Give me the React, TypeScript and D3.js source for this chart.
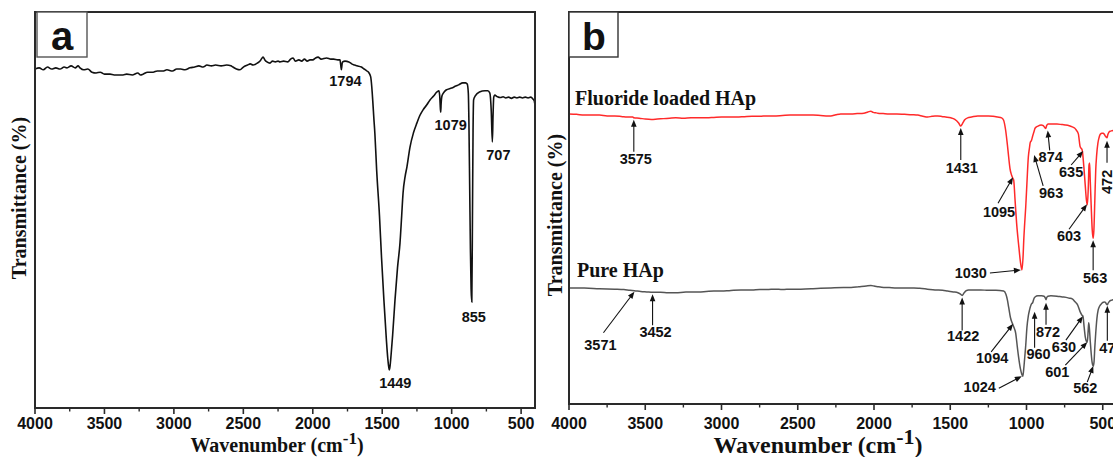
import React from 'react';
import * as d3 from 'd3';

// ---------- data ----------
const majorTicks = [4000, 3500, 3000, 2500, 2000, 1500, 1000, 500];
const minorTicks = [3750, 3250, 2750, 2250, 1750, 1250, 750];

// Panel a (single spectrum)
const spectrumAWavenumber = [
  4000, 3970, 3940, 3910, 3880, 3850, 3820, 3790, 3770, 3740, 3710, 3690, 3676, 3650, 3620, 3590, 3560, 3530, 3500,
  3460, 3430, 3400, 3366, 3340, 3300, 3260, 3240, 3222, 3190, 3150, 3120, 3080, 3050, 3010, 2980, 2950, 2920, 2884,
  2850, 2820, 2790, 2762, 2730, 2700, 2660, 2620, 2590, 2575, 2550, 2524, 2500, 2470, 2450, 2430, 2400, 2380, 2365,
  2358, 2345, 2330, 2308, 2290, 2270, 2250, 2236, 2210, 2180, 2160, 2142, 2125, 2100, 2080, 2060, 2040, 2020, 2000,
  1980, 1962, 1940, 1900, 1870, 1850, 1820, 1804, 1798, 1794, 1790, 1785, 1768, 1740, 1720, 1700, 1682, 1650, 1630,
  1610, 1595, 1583, 1575, 1568, 1560, 1553, 1540, 1520, 1505, 1488, 1470, 1460, 1453, 1449, 1444, 1436, 1425, 1408,
  1390, 1372, 1360, 1350, 1335, 1322, 1300, 1275, 1250, 1230, 1206, 1180, 1156, 1130, 1106, 1092, 1086, 1081, 1079,
  1076, 1070, 1060, 1040, 1000, 970, 950, 920, 900, 888, 880, 876, 870, 865, 860, 855, 850, 846, 842, 830, 800, 760,
  740, 725, 715, 707, 702, 697, 690, 670, 650, 630, 610, 590, 570, 550, 530, 510, 490, 470, 450, 430, 415, 405, 400,
];
const spectrumATransmittance = [
  85.6, 85.9, 85.4, 86.1, 85.6, 85.9, 85.6, 86.1, 85.9, 86.4, 85.9, 86.4, 85.9, 85.4, 85.6, 84.8, 84.6, 84.8, 84.3,
  84.3, 84.1, 84.1, 84.1, 84.3, 84.1, 84.6, 84.1, 84.3, 84.8, 84.8, 85.1, 85.1, 85.4, 85.1, 85.6, 85.6, 85.4, 85.9,
  86.1, 86.4, 86.1, 86.6, 86.4, 86.6, 86.4, 86.6, 86.4, 86.1, 85.6, 85.4, 86.1, 86.6, 86.9, 86.6, 87.1, 87.6, 88.4,
  88.6, 87.9, 87.4, 87.1, 87.6, 87.4, 87.6, 87.4, 87.6, 87.4, 88.1, 88.4, 87.6, 87.9, 87.6, 88.1, 87.6, 87.9, 87.9,
  88.4, 88.6, 88.1, 88.4, 88.1, 88.1, 87.9, 87.9, 86.4, 85.4, 86.6, 87.4, 87.6, 87.4, 86.9, 86.6, 86.4, 86.1, 85.6,
  85.1, 84.6, 83.6, 81.0, 77.5, 73.0, 69.4, 60.0, 48.7, 38.0, 27.3, 17.2, 12.5, 10.3, 9.6, 10.5, 13.5, 18.4, 27.3,
  35.4, 41.7, 48.5, 54.3, 58.5, 60.9, 65.9, 69.5, 72.0, 73.8, 75.3, 76.5, 77.8, 78.8, 79.8, 80.1, 78.8, 75.5, 74.7,
  76.8, 78.8, 79.5, 80.3, 80.8, 81.3, 81.6, 82.1, 82.1, 81.8, 79.5, 72.7, 55.0, 40.0, 30.0, 26.8, 50.0, 70.0, 77.8,
  78.8, 79.8, 80.1, 80.1, 79.5, 75.0, 67.2, 74.0, 78.5, 79.0, 78.6, 78.4, 78.6, 78.3, 78.5, 78.2, 78.5, 78.3, 78.5,
  78.3, 78.5, 78.3, 78.5, 78.0, 77.5, 76.5, 76.0,
];
const spectrumAPeaks = [1794, 1449, 1079, 855, 707];

// Panel b, Fluoride loaded HAp
const fluorideWavenumber = [
  4000, 3950, 3900, 3850, 3800, 3750, 3700, 3650, 3620, 3581, 3575, 3540, 3500, 3460, 3420, 3380, 3340, 3300, 3250,
  3200, 3150, 3096, 3050, 3000, 2950, 2900, 2850, 2800, 2750, 2700, 2660, 2600, 2550, 2500, 2450, 2400, 2350, 2300,
  2283, 2250, 2218, 2180, 2152, 2110, 2067, 2040, 2021, 2005, 1990, 1975, 1940, 1900, 1850, 1800, 1750, 1713, 1680,
  1648, 1620, 1600, 1582, 1550, 1530, 1497, 1470, 1445, 1431, 1419, 1405, 1386, 1360, 1320, 1280, 1250, 1220, 1189,
  1163, 1150, 1137, 1125, 1117, 1108, 1098, 1090, 1084, 1075, 1065, 1050, 1039, 1030, 1022, 1018, 1012, 1005, 997,
  988, 980, 976, 967, 960, 950, 943, 925, 904, 890, 882, 878, 874, 868, 858, 830, 800, 770, 747, 720, 700, 685, 674,
  660, 648, 635, 625, 615, 607, 601, 595, 590, 586, 582, 576, 569, 563, 558, 552, 546, 540, 532, 524, 516, 505, 497,
  490, 484, 478, 472, 467, 460, 450, 440, 420, 400,
];
const fluorideTransmittance = [
  74.0, 73.9, 73.7, 73.7, 73.7, 73.5, 73.5, 73.3, 73.2, 73.2, 73.0, 72.9, 72.7, 72.6, 72.7, 72.8, 72.9, 73.0, 72.9,
  73.0, 73.0, 73.0, 73.1, 73.2, 73.2, 73.2, 73.3, 73.4, 73.4, 73.5, 73.5, 73.6, 73.7, 73.7, 73.7, 73.7, 73.6, 73.5,
  73.5, 73.8, 74.0, 74.0, 74.0, 74.1, 74.2, 74.5, 74.7, 74.4, 74.3, 74.2, 74.1, 74.0, 74.0, 73.9, 73.8, 73.7, 73.4,
  73.2, 73.4, 73.5, 73.5, 73.3, 73.2, 73.0, 72.6, 71.7, 70.9, 71.6, 72.5, 73.0, 73.2, 73.5, 73.5, 73.5, 73.4, 73.2,
  73.0, 72.4, 69.9, 66.0, 63.0, 60.0, 58.4, 57.6, 57.1, 52.0, 46.2, 40.0, 36.0, 34.2, 38.0, 41.8, 46.0, 50.3, 56.5,
  63.0, 65.5, 66.6, 67.3, 68.3, 69.6, 70.4, 70.9, 71.2, 71.0, 70.6, 70.4, 70.3, 71.0, 71.4, 71.4, 71.4, 71.3, 71.2,
  71.0, 70.7, 70.4, 69.9, 68.9, 65.6, 64.8, 61.0, 55.9, 52.0, 50.8, 55.0, 61.0, 61.5, 57.0, 50.8, 44.4, 42.3, 44.4,
  52.0, 59.7, 63.5, 66.5, 68.0, 68.8, 69.1, 69.1, 68.8, 68.4, 68.1, 67.9, 68.7, 69.3, 69.6, 69.7, 69.9, 69.9,
];
const fluoridePeaks = [3575, 1431, 1095, 1030, 963, 874, 635, 603, 563, 472];

// Panel b, Pure HAp
const pureWavenumber = [
  4000, 3900, 3800, 3700, 3640, 3600, 3571, 3530, 3490, 3452, 3400, 3350, 3300, 3250, 3200, 3150, 3100, 3050, 3000,
  2950, 2873, 2800, 2750, 2700, 2650, 2600, 2545, 2480, 2400, 2350, 2283, 2200, 2150, 2100, 2050, 2020, 2000, 1970,
  1950, 1900, 1850, 1800, 1738, 1700, 1650, 1600, 1550, 1517, 1480, 1450, 1435, 1422, 1410, 1395, 1380, 1366, 1300,
  1250, 1200, 1150, 1135, 1125, 1117, 1105, 1094, 1082, 1071, 1060, 1052, 1040, 1030, 1024, 1018, 1013, 1005, 997,
  988, 980, 970, 966, 960, 952, 944, 925, 900, 885, 876, 872, 868, 860, 840, 800, 766, 740, 720, 700, 680, 665, 648,
  635, 630, 622, 615, 607, 601, 596, 592, 588, 582, 576, 570, 562, 557, 552, 546, 538, 530, 520, 510, 500, 490, 482,
  476, 470, 465, 460, 450, 440, 420, 400,
];
const pureTransmittance = [
  29.6, 29.6, 29.4, 29.3, 29.2, 29.0, 28.9, 28.7, 28.6, 28.5, 28.5, 28.4, 28.4, 28.5, 28.6, 28.6, 28.7, 28.8, 28.8,
  28.9, 29.1, 29.1, 29.2, 29.2, 29.3, 29.2, 29.3, 29.3, 29.4, 29.5, 29.6, 29.7, 29.7, 29.9, 30.1, 30.2, 30.1, 29.9,
  29.8, 29.7, 29.6, 29.6, 29.6, 29.5, 29.3, 29.1, 29.0, 28.8, 28.6, 28.4, 28.1, 27.7, 28.3, 28.9, 29.1, 29.1, 29.1,
  29.0, 29.0, 28.8, 28.0, 26.5, 24.7, 22.0, 20.7, 19.5, 18.1, 14.5, 12.0, 9.0, 7.5, 7.1, 9.0, 11.2, 15.0, 19.6,
  22.5, 24.0, 25.3, 25.6, 25.8, 26.8, 27.3, 27.6, 27.6, 27.5, 27.0, 26.6, 27.1, 27.5, 27.6, 27.5, 27.3, 27.2, 27.0,
  26.8, 26.0, 25.3, 23.5, 22.6, 22.4, 19.6, 17.2, 16.0, 15.8, 18.5, 20.7, 19.5, 16.0, 13.0, 10.7, 9.7, 10.8, 14.5,
  18.1, 21.9, 24.0, 25.0, 25.5, 25.9, 26.0, 25.9, 25.5, 25.3, 25.7, 26.0, 26.4, 26.5, 26.7, 26.8,
];
const purePeaks = [3571, 3452, 1422, 1094, 1024, 960, 872, 630, 601, 562, 470];

// ---------- layout (pixel offsets, not data) ----------
const A = { left: 35, right: 535, top: 12, bottom: 408 };
const B = { left: 569, right: 1118, top: 12, bottom: 404 };

const spectrumALabelOffsets: [number, number][] = [[4, 11], [6, 13], [10, 13], [2, 15], [6, 13]];

type ArrowLayout = { tip: [number, number]; tail: [number, number]; text: [number, number]; anchor?: string; rotate?: boolean };
const fluorideLayout: ArrowLayout[] = [
  { tip: [0, 2], tail: [0, 34], text: [2, 41] },
  { tip: [0, 2], tail: [0, 34], text: [1, 42] },
  { tip: [1, 1], tail: [-14, 27], text: [-13, 36] },
  { tip: [-1, 0], tail: [-32, 3], text: [-35, 3], anchor: 'end' },
  { tip: [2, 17], tail: [11, 48], text: [19, 55] },
  { tip: [2, 2], tail: [4, 22], text: [5, 29] },
  { tip: [1, 1], tail: [-11, 15], text: [-11, 22] },
  { tip: [0, 1], tail: [-18, 26], text: [-18, 33] },
  { tip: [0, 2], tail: [0, 32], text: [2, 40] },
  { tip: [0, 3], tail: [0, 25], text: [0, 44], rotate: true },
];
const pureLayout: ArrowLayout[] = [
  { tip: [0, 1], tail: [-31, 42], text: [-34, 54] },
  { tip: [0, 2], tail: [0, 33], text: [3, 40] },
  { tip: [0, 2], tail: [0, 35], text: [1, 41] },
  { tip: [1, 1], tail: [-21, 29], text: [-20, 35] },
  { tip: [-1, 0], tail: [-24, 12], text: [-27, 11], anchor: 'end' },
  { tip: [2, 9], tail: [2, 45], text: [6, 51] },
  { tip: [0, 3], tail: [0, 25], text: [2, 32] },
  { tip: [0, 0], tail: [-17, 24], text: [-19, 31] },
  { tip: [0, 0], tail: [-22, 23], text: [-30, 30] },
  { tip: [0, 0], tail: [-6, 16], text: [-8, 22] },
  { tip: [0, 1], tail: [0, 36], text: [4, 43] },
];

const SERIF = "'Liberation Serif', 'Times New Roman', serif";
const SANS = "'Liberation Sans', Arial, sans-serif";
const FRAME = '#2a2a2a';

// value of a spectrum at a peak position: exact sample if present, else linear interpolation
function valueAt(wns: number[], ts: number[], p: number): number {
  const idx = wns.indexOf(p);
  if (idx >= 0) return ts[idx];
  for (let i = 0; i < wns.length - 1; i++) {
    const a = wns[i], b = wns[i + 1];
    if ((a >= p && p >= b) || (a <= p && p <= b)) {
      const f = (p - a) / (b - a);
      return ts[i] + f * (ts[i + 1] - ts[i]);
    }
  }
  return ts[ts.length - 1];
}

function Arrow({ x1, y1, x2, y2 }: { x1: number; y1: number; x2: number; y2: number }) {
  const dx = x2 - x1, dy = y2 - y1;
  const len = Math.hypot(dx, dy) || 1;
  const ux = dx / len, uy = dy / len;
  const L = 7, W = 2.8;
  const bx = x2 - ux * L, by = y2 - uy * L;
  const pts = [
    [x2, y2],
    [bx - uy * W, by + ux * W],
    [bx + uy * W, by - ux * W],
  ].map((p) => p.join(',')).join(' ');
  return (
    <g>
      <line x1={x1} y1={y1} x2={bx + ux * 1} y2={by + uy * 1} stroke="#111" strokeWidth={1.1} />
      <polygon points={pts} fill="#111" />
    </g>
  );
}

function XAxis({ scale, bottom, fontSize, labelY }: { scale: d3.ScaleLinear<number, number>; bottom: number; fontSize: number; labelY: number }) {
  return (
    <g>
      {majorTicks.map((t) => (
        <g key={'M' + t}>
          <line x1={scale(t)} x2={scale(t)} y1={bottom} y2={bottom + 6} stroke={FRAME} strokeWidth={1.6} />
          <text x={scale(t)} y={labelY} textAnchor="middle" fontFamily={SANS} fontWeight="bold" fontSize={fontSize} fill="#111">
            {t}
          </text>
        </g>
      ))}
      {minorTicks.map((t) => (
        <line key={'m' + t} x1={scale(t)} x2={scale(t)} y1={bottom} y2={bottom + 3.5} stroke={FRAME} strokeWidth={1.4} />
      ))}
    </g>
  );
}

export default function App() {
  const xA = d3.scaleLinear().domain([4000, 400]).range([A.left, A.right]);
  const yA = d3.scaleLinear().domain([0, 100]).range([A.bottom, A.top]);
  const xB = d3.scaleLinear().domain([4000, 400]).range([B.left, B.right]);
  const yB = d3.scaleLinear().domain([0, 100]).range([B.bottom, B.top]);

  const lineA = d3
    .line<number>()
    .x((d, i) => xA(spectrumAWavenumber[i]))
    .y((d) => yA(d))
    .curve(d3.curveMonotoneX);
  const lineF = d3
    .line<number>()
    .x((d, i) => xB(fluorideWavenumber[i]))
    .y((d) => yB(d))
    .curve(d3.curveMonotoneX);
  const lineP = d3
    .line<number>()
    .x((d, i) => xB(pureWavenumber[i]))
    .y((d) => yB(d))
    .curve(d3.curveMonotoneX);

  const renderArrows = (peaks: number[], layout: ArrowLayout[], wns: number[], ts: number[], key: string) =>
    peaks.map((p, i) => {
      const L = layout[i];
      const cx = xB(p);
      const cy = yB(valueAt(wns, ts, p));
      const tx = cx + L.text[0];
      const ty = cy + L.text[1];
      return (
        <g key={key + p}>
          <Arrow x1={cx + L.tail[0]} y1={cy + L.tail[1]} x2={cx + L.tip[0]} y2={cy + L.tip[1]} />
          <text
            x={tx}
            y={ty + 5}
            textAnchor={L.anchor || 'middle'}
            fontFamily={SANS}
            fontWeight="bold"
            fontSize={14.5}
            fill="#111"
            transform={L.rotate ? `rotate(-90 ${tx} ${ty})` : undefined}
          >
            {p}
          </text>
        </g>
      );
    });

  return (
    <svg width={1113} height={457} style={{ position: 'absolute', left: 0, top: 0, background: '#fff' }}>
      <rect x={0} y={0} width={1113} height={457} fill="#fff" />
      <defs>
        <clipPath id="clipA">
          <rect x={A.left} y={A.top} width={A.right - A.left} height={A.bottom - A.top} />
        </clipPath>
        <clipPath id="clipB">
          <rect x={B.left} y={B.top} width={B.right - B.left} height={B.bottom - B.top} />
        </clipPath>
      </defs>

      {/* ---------- Panel a ---------- */}
      <g>
        <path d={lineA(spectrumATransmittance) || ''} fill="none" stroke="#111" strokeWidth={1.6} clipPath="url(#clipA)" />
        <rect x={A.left} y={A.top} width={A.right - A.left} height={A.bottom - A.top} fill="none" stroke={FRAME} strokeWidth={2} />
        <rect x={A.left + 2} y={A.top} width={50} height={45} fill="#fff" stroke="#555" strokeWidth={1.4} />
        <text x={A.left + 27} y={A.top + 38} textAnchor="middle" fontFamily={SANS} fontWeight="bold" fontSize={40} fill="#111">
          a
        </text>
        {spectrumAPeaks.map((p, i) => (
          <text
            key={'pa' + p}
            x={xA(p) + spectrumALabelOffsets[i][0]}
            y={yA(valueAt(spectrumAWavenumber, spectrumATransmittance, p)) + spectrumALabelOffsets[i][1] + 5}
            textAnchor="middle"
            fontFamily={SANS}
            fontWeight="bold"
            fontSize={14.5}
            fill="#111"
          >
            {p}
          </text>
        ))}
        <XAxis scale={xA} bottom={A.bottom} fontSize={16} labelY={429} />
        <text x={277} y={452} textAnchor="middle" fontFamily={SERIF} fontWeight="bold" fontSize={20} fill="#111">
          Wavenumber (cm
          <tspan dy={-8} fontSize={17}>-1</tspan>
          <tspan dy={8}>)</tspan>
        </text>
        <text
          transform={`translate(26, 198) rotate(-90)`}
          textAnchor="middle"
          fontFamily={SERIF}
          fontWeight="bold"
          fontSize={20}
          fill="#111"
        >
          Transmittance (%)
        </text>
      </g>

      {/* ---------- Panel b ---------- */}
      <g>
        <path d={lineF(fluorideTransmittance) || ''} fill="none" stroke="#ff2a2a" strokeWidth={1.5} clipPath="url(#clipB)" />
        <path d={lineP(pureTransmittance) || ''} fill="none" stroke="#555" strokeWidth={1.5} clipPath="url(#clipB)" />
        <rect x={B.left} y={B.top} width={B.right - B.left} height={B.bottom - B.top} fill="none" stroke={FRAME} strokeWidth={2} />
        <rect x={B.left} y={B.top} width={49} height={45} fill="#fff" stroke="#333" strokeWidth={1.4} />
        <text x={B.left + 25} y={B.top + 38} textAnchor="middle" fontFamily={SANS} fontWeight="bold" fontSize={39} fill="#111">
          b
        </text>
        <text x={575} y={105} fontFamily={SERIF} fontWeight="bold" fontSize={20} fill="#111">
          Fluoride loaded HAp
        </text>
        <text x={577} y={277} fontFamily={SERIF} fontWeight="bold" fontSize={20} fill="#111">
          Pure HAp
        </text>
        {renderArrows(fluoridePeaks, fluorideLayout, fluorideWavenumber, fluorideTransmittance, 'f')}
        {renderArrows(purePeaks, pureLayout, pureWavenumber, pureTransmittance, 'p')}
        <XAxis scale={xB} bottom={B.bottom} fontSize={16} labelY={428.5} />
        <text x={818} y={453} textAnchor="middle" fontFamily={SERIF} fontWeight="bold" fontSize={24} fill="#111">
          Wavenumber (cm
          <tspan dy={-9} fontSize={22}>-1</tspan>
          <tspan dy={9}>)</tspan>
        </text>
        <text
          transform={`translate(562, 215) rotate(-90)`}
          textAnchor="middle"
          fontFamily={SERIF}
          fontWeight="bold"
          fontSize={20}
          fill="#111"
        >
          Transmittance (%)
        </text>
      </g>
    </svg>
  );
}
